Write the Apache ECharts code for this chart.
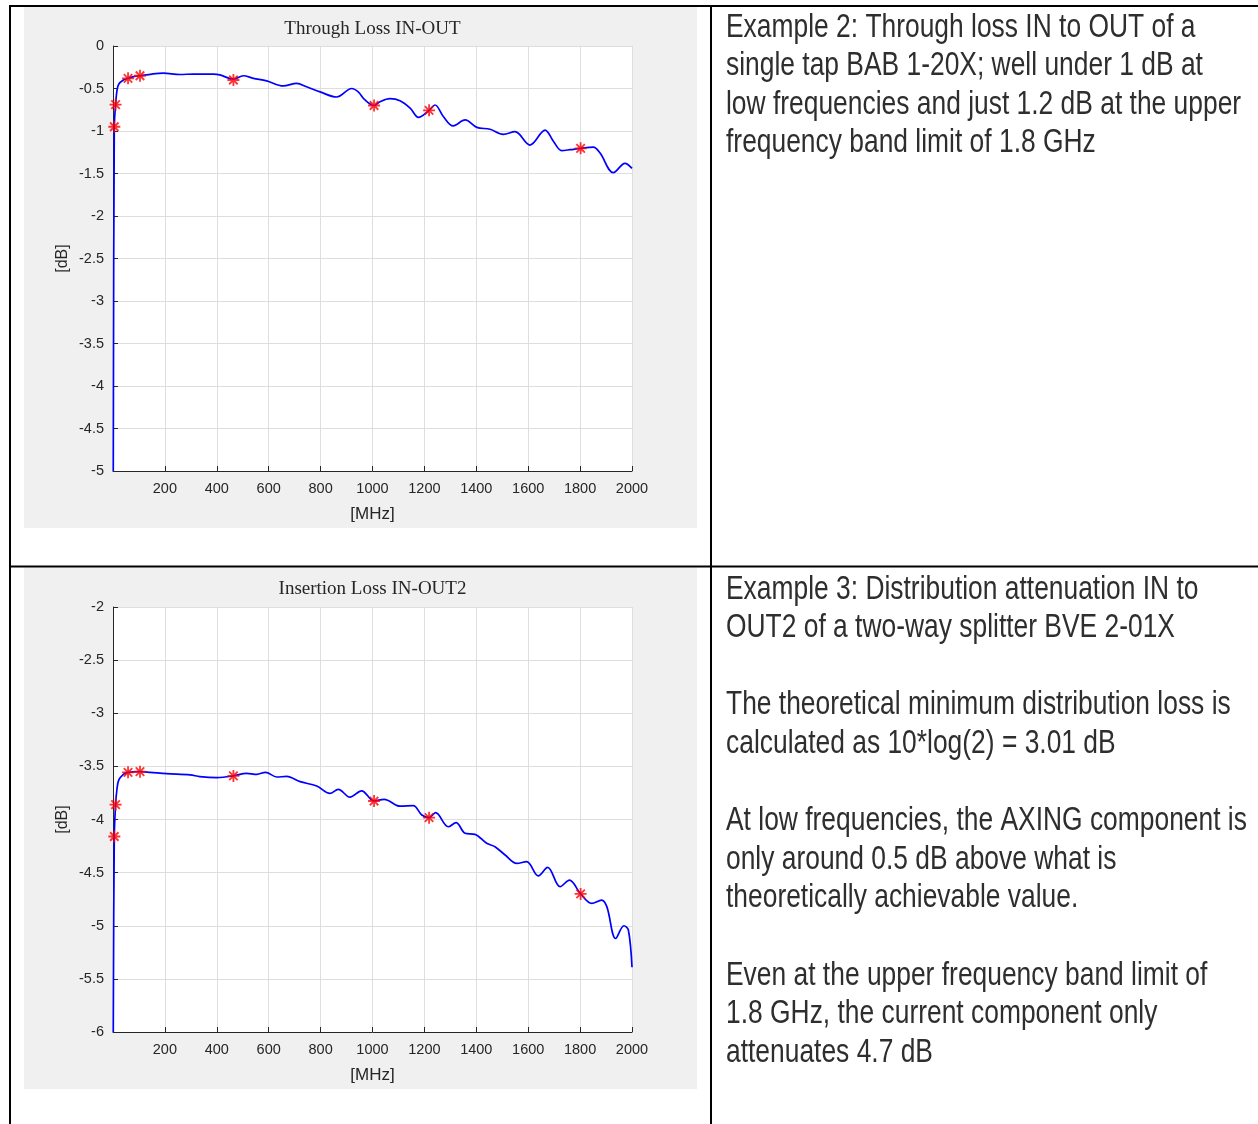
<!DOCTYPE html>
<html><head><meta charset="utf-8">
<script src="https://cdn.jsdelivr.net/npm/echarts@6/dist/echarts.min.js"></script>
<style>html,body{margin:0;padding:0;background:#fff;}#c{width:1258px;height:1124px;}</style>
</head><body><div id="c"></div>
<script>
// ---- Data ----
const titleThrough = 'Through Loss IN-OUT';
const titleSplit = 'Insertion Loss IN-OUT2';
const xAxisName = '[MHz]';
const yAxisName = '[dB]';

const freqThrough = [1, 5, 10, 15, 22, 40, 58, 80, 104, 150, 194, 258, 310, 387, 412, 464, 502, 541, 592, 656, 708, 746, 798, 862, 920, 945, 971, 1006, 1029, 1067, 1106, 1145, 1177, 1218, 1241, 1273, 1311, 1357, 1402, 1453, 1504, 1549, 1607, 1665, 1697, 1729, 1761, 1802, 1851, 1877, 1928, 1973, 2000];
const lossThrough = [-5, -0.95, -0.69, -0.53, -0.45, -0.40, -0.38, -0.36, -0.35, -0.33, -0.32, -0.335, -0.33, -0.33, -0.34, -0.39, -0.35, -0.38, -0.41, -0.47, -0.44, -0.48, -0.54, -0.60, -0.50, -0.54, -0.635, -0.70, -0.655, -0.62, -0.643, -0.73, -0.84, -0.757, -0.694, -0.83, -0.94, -0.87, -0.957, -0.98, -1.04, -1.008, -1.165, -0.99, -1.12, -1.23, -1.22, -1.204, -1.19, -1.26, -1.49, -1.38, -1.44];
const markerFreqThrough = [5, 10, 58, 104, 464, 1006, 1218, 1802];
const markerLossThrough = [-0.95, -0.69, -0.38, -0.35, -0.40, -0.70, -0.757, -1.204];

const freqSplit = [1, 5, 10, 15, 22, 40, 58, 104, 143, 207, 297, 335, 400, 464, 515, 554, 588, 631, 669, 721, 785, 836, 868, 913, 958, 1006, 1045, 1106, 1157, 1190, 1218, 1243, 1292, 1322, 1357, 1395, 1440, 1472, 1511, 1556, 1594, 1639, 1675, 1723, 1759, 1802, 1845, 1883, 1903, 1937, 1969, 1986, 2000];
const lossSplit = [-6, -4.16, -3.86, -3.72, -3.63, -3.575, -3.556, -3.55, -3.556, -3.569, -3.58, -3.597, -3.606, -3.59, -3.565, -3.575, -3.556, -3.60, -3.595, -3.644, -3.685, -3.754, -3.716, -3.79, -3.73, -3.826, -3.81, -3.875, -3.87, -3.958, -3.983, -3.936, -4.068, -4.03, -4.13, -4.14, -4.224, -4.256, -4.334, -4.413, -4.397, -4.53, -4.45, -4.632, -4.57, -4.70, -4.79, -4.758, -4.82, -5.12, -5.0, -5.04, -5.39];
const markerFreqSplit = [5, 10, 58, 104, 464, 1006, 1218, 1802];
const markerLossSplit = [-4.16, -3.86, -3.556, -3.55, -3.59, -3.826, -3.983, -4.70];

const yRangeThrough = [-5, 0];
const yRangeSplit = [-6, -2];
const xRange = [0, 2000];
const xStep = 200;
const yStep = 0.5;

const textThrough = [
  'Example 2: Through loss IN to OUT of a',
  'single tap BAB 1-20X; well under 1 dB at',
  'low frequencies and just 1.2 dB at the upper',
  'frequency band limit of 1.8 GHz'
];
const textSplit = [
  'Example 3: Distribution attenuation IN to',
  'OUT2 of a two-way splitter BVE 2-01X',
  '',
  'The theoretical minimum distribution loss is',
  'calculated as 10*log(2) = 3.01 dB',
  '',
  'At low frequencies, the AXING component is',
  'only around 0.5 dB above what is',
  'theoretically achievable value.',
  '',
  'Even at the upper frequency band limit of',
  '1.8 GHz, the current component only',
  'attenuates 4.7 dB'
];

// ---- Styling ----
const AX = '#262626';
const GRIDC = '#dedede';
const STAR = 'path://M-0.75,-5 L0.75,-5 L0.75,5 L-0.75,5 Z M-5,-0.75 L5,-0.75 L5,0.75 L-5,0.75 Z M-3.0,-4.07 L4.07,3.0 L3.0,4.07 L-4.07,-3.0 Z M-3.0,4.07 L-4.07,3.0 L3.0,-4.07 L4.07,-3.0 Z';

const zip = (a, b) => a.map((v, i) => [v, b[i]]);

function xAxisFor(gi) {
  return {
    gridIndex: gi, type: 'value', min: xRange[0], max: xRange[1], interval: xStep,
    axisLine: { show: true, onZero: false, lineStyle: { color: AX, width: 1 } },
    axisTick: { show: true, inside: true, length: 5, lineStyle: { color: AX } },
    axisLabel: { color: AX, fontFamily: 'Liberation Sans', fontSize: 14.5, margin: 10,
      formatter: v => (v === 0 ? '' : String(v)) },
    splitLine: { show: true, lineStyle: { color: GRIDC, width: 1 } },
    name: xAxisName, nameLocation: 'middle', nameGap: 35,
    nameTextStyle: { color: AX, fontFamily: 'Liberation Sans', fontSize: 17 }
  };
}
function yAxisFor(gi, range) {
  return {
    gridIndex: gi, type: 'value', min: range[0], max: range[1], interval: yStep,
    axisLine: { show: true, onZero: false, lineStyle: { color: AX, width: 1 } },
    axisTick: { show: true, inside: true, length: 5, lineStyle: { color: AX } },
    axisLabel: { color: AX, fontFamily: 'Liberation Sans', fontSize: 14.5, margin: 9 },
    splitLine: { show: true, lineStyle: { color: GRIDC, width: 1 } },
    name: yAxisName, nameLocation: 'middle', nameGap: 42, nameRotate: 90,
    nameTextStyle: { color: AX, fontFamily: 'Liberation Sans', fontSize: 16 }
  };
}

const graphics = [
  { type: 'rect', z: -100, shape: { x: 24, y: 7, width: 673, height: 521 }, style: { fill: '#f0f0f0' } },
  { type: 'rect', z: -100, shape: { x: 24, y: 567.5, width: 673, height: 521.5 }, style: { fill: '#f0f0f0' } },
  { type: 'line', z: 50, shape: { x1: 9, y1: 6, x2: 1258, y2: 6 }, style: { stroke: '#000', lineWidth: 2 } },
  { type: 'line', z: 50, shape: { x1: 9, y1: 566.5, x2: 1258, y2: 566.5 }, style: { stroke: '#000', lineWidth: 2 } },
  { type: 'line', z: 50, shape: { x1: 10, y1: 5, x2: 10, y2: 1124 }, style: { stroke: '#000', lineWidth: 2 } },
  { type: 'line', z: 50, shape: { x1: 711, y1: 5, x2: 711, y2: 1124 }, style: { stroke: '#000', lineWidth: 2 } },
  { type: 'text', z: 50, x: 372.5, y: 29, style: { text: titleThrough, fontFamily: 'Liberation Serif', fontSize: 19, fill: AX, align: 'center', verticalAlign: 'middle' } },
  { type: 'text', z: 50, x: 372.5, y: 589.5, style: { text: titleSplit, fontFamily: 'Liberation Serif', fontSize: 19, fill: AX, align: 'center', verticalAlign: 'middle' } }
];
const LINE_H = 38.6;
textThrough.forEach((t, i) => {
  if (!t) return;
  graphics.push({ type: 'text', z: 50, x: 726, y: 27.5 + i * LINE_H, scaleX: 0.8,
    style: { text: t, fontFamily: 'Liberation Sans', fontSize: 33, fill: '#2e2e2e', verticalAlign: 'middle' } });
});
textSplit.forEach((t, i) => {
  if (!t) return;
  graphics.push({ type: 'text', z: 50, x: 726, y: 589.5 + i * LINE_H, scaleX: 0.8,
    style: { text: t, fontFamily: 'Liberation Sans', fontSize: 33, fill: '#2e2e2e', verticalAlign: 'middle' } });
});

const option = {
  animation: false,
  backgroundColor: '#ffffff',
  graphic: { elements: graphics },
  grid: [
    { left: 113, width: 519, top: 46, height: 425, show: true, backgroundColor: '#ffffff', borderWidth: 0 },
    { left: 113, width: 519, top: 607, height: 425, show: true, backgroundColor: '#ffffff', borderWidth: 0 }
  ],
  xAxis: [xAxisFor(0), xAxisFor(1)],
  yAxis: [yAxisFor(0, yRangeThrough), yAxisFor(1, yRangeSplit)],
  series: [
    { type: 'line', xAxisIndex: 0, yAxisIndex: 0, data: zip(freqThrough, lossThrough), smooth: 0.35,
      showSymbol: false, lineStyle: { color: '#0000ff', width: 1.7 }, clip: true },
    { type: 'scatter', xAxisIndex: 0, yAxisIndex: 0, data: zip(markerFreqThrough, markerLossThrough),
      symbol: STAR, symbolSize: 12, itemStyle: { color: '#ff0000' }, z: 5 },
    { type: 'line', xAxisIndex: 1, yAxisIndex: 1, data: zip(freqSplit, lossSplit), smooth: 0.35,
      showSymbol: false, lineStyle: { color: '#0000ff', width: 1.7 }, clip: true },
    { type: 'scatter', xAxisIndex: 1, yAxisIndex: 1, data: zip(markerFreqSplit, markerLossSplit),
      symbol: STAR, symbolSize: 12, itemStyle: { color: '#ff0000' }, z: 5 }
  ]
};
const chart = echarts.init(document.getElementById('c'), null, { renderer: 'canvas', width: 1258, height: 1124 });
chart.setOption(option);
</script></body></html>
